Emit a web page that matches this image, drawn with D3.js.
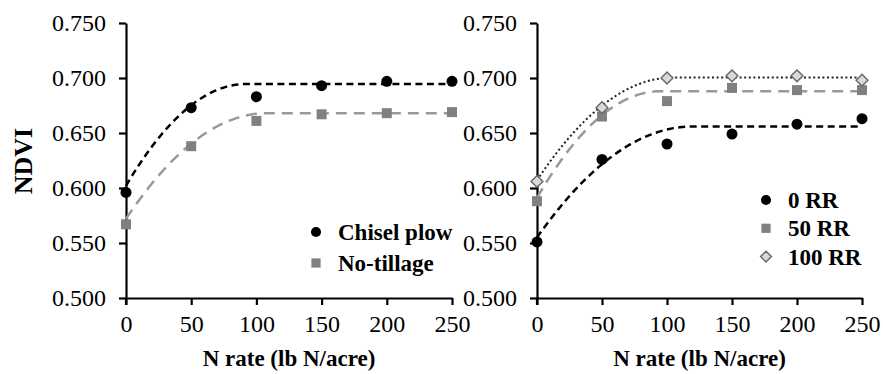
<!DOCTYPE html>
<html>
<head>
<meta charset="utf-8">
<script src="https://cdn.jsdelivr.net/npm/d3@7"></script>
<style>
  body { margin: 0; background: #fff; }
</style>
</head>
<body>
<svg id="chart" width="883" height="374"></svg>
<script>
var FONT = "'Liberation Serif'";

// N rates (lb N/acre)
var nRates = [0, 50, 100, 150, 200, 250];
var xTicks = [0, 50, 100, 150, 200, 250];
var yTicks = [0.500, 0.550, 0.600, 0.650, 0.700, 0.750];

// left panel - tillage
var chiselPlow = [0.596, 0.673, 0.683, 0.693, 0.697, 0.697];
var noTillage  = [0.567, 0.638, 0.661, 0.667, 0.668, 0.669];

// right panel - residue removal
var rr0   = [0.551, 0.626, 0.640, 0.649, 0.658, 0.663];
var rr50  = [0.588, 0.665, 0.679, 0.691, 0.689, 0.689];
var rr100 = [0.606, 0.673, 0.700, 0.702, 0.702, 0.698];

// quadratic-plateau fits: [intercept, plateau, join point]
var fitChisel = [0.602, 0.6945, 92];
var fitNoTill = [0.572, 0.668, 108];
var fitRR0    = [0.555, 0.656, 120];
var fitRR50   = [0.591, 0.688, 95];
var fitRR100  = [0.607, 0.7005, 105];

var svg = d3.select("#chart");

var y = d3.scaleLinear().domain([0.5, 0.75]).range([298, 23]);

// quadratic plateau model
function qp(fit, n) {
    var a = fit[0], p = fit[1], xp = fit[2];
    if (n >= xp) return p;
    var t = 1 - n / xp;
    return a + (p - a) * (1 - t * t);
}

// rotated square for the 100 RR marker
var diamond = {
    draw: function(context, size) {
        var r = Math.sqrt(size / 2);
        context.moveTo(0, -r);
        context.lineTo(r, 0);
        context.lineTo(0, r);
        context.lineTo(-r, 0);
        context.closePath();
    }
};

function panel(x0, x1, series, legendX, legendY, gap) {
    var x = d3.scaleLinear().domain([0, 250]).range([x0, x1]);
    var g = svg.append("g");

    var xAxis = g.append("g")
        .attr("transform", "translate(0,298)")
        .call(d3.axisBottom(x).tickValues(xTicks).tickSize(7).tickSizeOuter(0).tickPadding(10));
    var yAxis = g.append("g")
        .attr("transform", "translate(" + x0 + ",0)")
        .call(d3.axisLeft(y).tickValues(yTicks).tickSize(7).tickSizeOuter(0).tickFormat(d3.format(".3f")).tickPadding(13));

    [xAxis, yAxis].forEach(function(ax) {
        ax.attr("font-family", null);
        ax.select(".domain").attr("stroke", "#000").attr("stroke-width", 2.2);
        ax.selectAll(".tick line").attr("stroke", "#000").attr("stroke-width", 2.2);
        ax.selectAll(".tick text").attr("font-size", 24).attr("fill", "#000")
            .style("font-family", FONT);
    });
    g.append("line")
        .attr("x1", x0).attr("x2", x0).attr("y1", y(0.5)).attr("y2", y(0.5) + 7)
        .attr("stroke", "#000").attr("stroke-width", 2.2);

    g.append("text")
        .attr("x", (x0 + x1) / 2).attr("y", 366)
        .attr("text-anchor", "middle")
        .attr("font-size", 23).attr("font-weight", "bold")
        .style("font-family", FONT)
        .text("N rate (lb N/acre)");

    var line = d3.line().x(function(d) { return x(d); });
    var curveN = d3.range(0, 250.5, 2);

    series.forEach(function(s) {
        g.append("path")
            .datum(curveN)
            .attr("fill", "none")
            .attr("stroke", s.lineColor)
            .attr("stroke-width", s.lineWidth)
            .attr("stroke-dasharray", s.dash)
            .attr("d", line.y(function(d) { return y(qp(s.fit, d)); }));
    });

    series.forEach(function(s) {
        g.selectAll(null).data(nRates.map(function(n, i) { return [n, s.values[i]]; }))
            .enter().append("path")
            .attr("transform", function(d) { return "translate(" + x(d[0]) + "," + y(d[1]) + ")"; })
            .attr("d", d3.symbol().type(s.symbol).size(s.size))
            .attr("fill", s.fill)
            .attr("stroke", s.stroke)
            .attr("stroke-width", s.strokeWidth);
    });

    // legend
    series.forEach(function(s, i) {
        var ly = legendY + i * gap;
        g.append("path")
            .attr("transform", "translate(" + legendX + "," + ly + ")")
            .attr("d", d3.symbol().type(s.symbol).size(s.size * 0.85))
            .attr("fill", s.fill)
            .attr("stroke", s.stroke)
            .attr("stroke-width", s.strokeWidth);
        g.append("text")
            .attr("x", legendX + 22).attr("y", ly + 8)
            .attr("font-size", 23).attr("font-weight", "bold")
            .style("font-family", FONT)
            .text(s.name);
    });
}

// y axis title
svg.append("text")
    .attr("transform", "translate(32,161) rotate(-90)")
    .attr("text-anchor", "middle")
    .attr("font-size", 26).attr("font-weight", "bold")
    .style("font-family", FONT)
    .text("NDVI");

panel(126, 452, [
    { name: "Chisel plow", values: chiselPlow, fit: fitChisel, lineColor: "#000", lineWidth: 2.5, dash: "7,4.5",
      symbol: d3.symbolCircle, size: 95, fill: "#000", stroke: "none", strokeWidth: 0 },
    { name: "No-tillage", values: noTillage, fit: fitNoTill, lineColor: "#999", lineWidth: 2.5, dash: "11,7",
      symbol: d3.symbolSquare, size: 100, fill: "#808080", stroke: "none", strokeWidth: 0 }
], 316, 232, 31);

panel(537, 862, [
    { name: "0 RR", values: rr0, fit: fitRR0, lineColor: "#000", lineWidth: 2.5, dash: "7,4.5",
      symbol: d3.symbolCircle, size: 95, fill: "#000", stroke: "none", strokeWidth: 0 },
    { name: "50 RR", values: rr50, fit: fitRR50, lineColor: "#999", lineWidth: 2.5, dash: "11,7",
      symbol: d3.symbolSquare, size: 100, fill: "#808080", stroke: "none", strokeWidth: 0 },
    { name: "100 RR", values: rr100, fit: fitRR100, lineColor: "#222", lineWidth: 2, dash: "2,2.6",
      symbol: diamond, size: 70, fill: "#d9d9d9", stroke: "#666", strokeWidth: 1.4 }
], 766, 200, 28.3);
</script>
</body>
</html>
